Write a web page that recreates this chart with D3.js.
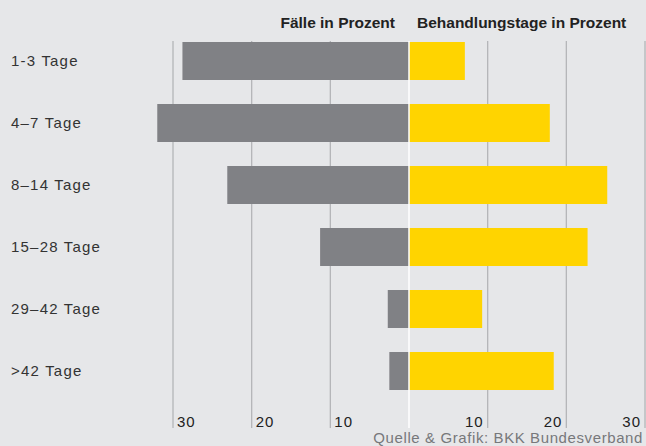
<!DOCTYPE html>
<html>
<head>
<meta charset="utf-8">
<script src="https://cdn.jsdelivr.net/npm/d3@7"></script>
<style>
  body { margin: 0; background: #e6e7e9; }
  svg { display: block; font-family: "Liberation Sans", Arial, sans-serif; }
</style>
</head>
<body>
<div id="chart"></div>
<script>
var WIDTH = 646, HEIGHT = 446;

// data
var categories = ["1-3 Tage", "4–7 Tage", "8–14 Tage", "15–28 Tage", "29–42 Tage", ">42 Tage"];
var faelle = [28.8, 32.0, 23.1, 11.3, 2.7, 2.5];
var behandlungstage = [7.1, 17.9, 25.2, 22.7, 9.3, 18.4];
var tickValues = [-30, -20, -10, 0, 10, 20, 30];

const svg = d3.select("#chart").append("svg")
  .attr("width", WIDTH)
  .attr("height", HEIGHT)

svg.append("rect")
  .attr("width", WIDTH)
  .attr("height", HEIGHT)
  .attr("fill", "#e6e7e9")

var x = d3.scaleLinear()
  .domain([-30, 30])
  .range([173, 645])

var y = d3.scaleBand()
  .domain(categories)
  .range([18, 414])
  .paddingInner(0.387)
  .paddingOuter(0.387)

// gridlines
svg.selectAll(".grid")
  .data(tickValues.filter(d => d != 0))
  .enter().append("line")
  .attr("class", "grid")
  .attr("x1", d => x(d))
  .attr("x2", d => x(d))
  .attr("y1", 41)
  .attr("y2", 428)
  .attr("stroke", "#b4b5b8")
  .attr("stroke-width", 1.3)

// left bars (Fälle)
svg.selectAll(".bar-left")
  .data(faelle)
  .enter().append("rect")
  .attr("class", "bar-left")
  .attr("x", d => x(-d))
  .attr("y", (d, i) => y(categories[i]))
  .attr("width", d => x(0) - x(-d))
  .attr("height", y.bandwidth())
  .attr("fill", "#808185")

// right bars (Behandlungstage)
svg.selectAll(".bar-right")
  .data(behandlungstage)
  .enter().append("rect")
  .attr("class", "bar-right")
  .attr("x", x(0))
  .attr("y", (d, i) => y(categories[i]))
  .attr("width", d => x(d) - x(0))
  .attr("height", y.bandwidth())
  .attr("fill", "#ffd400")

// zero line
svg.append("line")
  .attr("x1", x(0))
  .attr("x2", x(0))
  .attr("y1", 41)
  .attr("y2", 428)
  .attr("stroke", "#ffffff")
  .attr("stroke-width", 1.5)

// category labels
svg.selectAll(".cat")
  .data(categories)
  .enter().append("text")
  .attr("class", "cat")
  .attr("x", 11)
  .attr("y", d => y(d) + y.bandwidth() / 2)
  .attr("dy", "0.35em")
  .attr("font-size", 15)
  .attr("letter-spacing", 1.2)
  .attr("fill", "#333333")
  .text(d => d)

// tick labels
svg.selectAll(".tick-label")
  .data(tickValues.filter(d => d != 0))
  .enter().append("text")
  .attr("class", "tick-label")
  .attr("x", d => d < 0 ? x(d) + 4 : x(d) - 4)
  .attr("y", 427)
  .attr("text-anchor", d => d < 0 ? "start" : "end")
  .attr("font-size", 15)
  .attr("letter-spacing", 1)
  .attr("fill", "#222222")
  .text(d => Math.abs(d))

// headers
svg.append("text")
  .attr("x", 395)
  .attr("y", 28)
  .attr("text-anchor", "end")
  .attr("font-size", 15.5)
  .attr("font-weight", "bold")
  .attr("fill", "#222222")
  .text("Fälle in Prozent")

svg.append("text")
  .attr("x", 417)
  .attr("y", 28)
  .attr("font-size", 15.5)
  .attr("font-weight", "bold")
  .attr("fill", "#222222")
  .text("Behandlungstage in Prozent")

// source
svg.append("text")
  .attr("x", 643)
  .attr("y", 443)
  .attr("text-anchor", "end")
  .attr("font-size", 15)
  .attr("letter-spacing", 0.6)
  .attr("fill", "#77787b")
  .text("Quelle & Grafik: BKK Bundesverband")
</script>
</body>
</html>
